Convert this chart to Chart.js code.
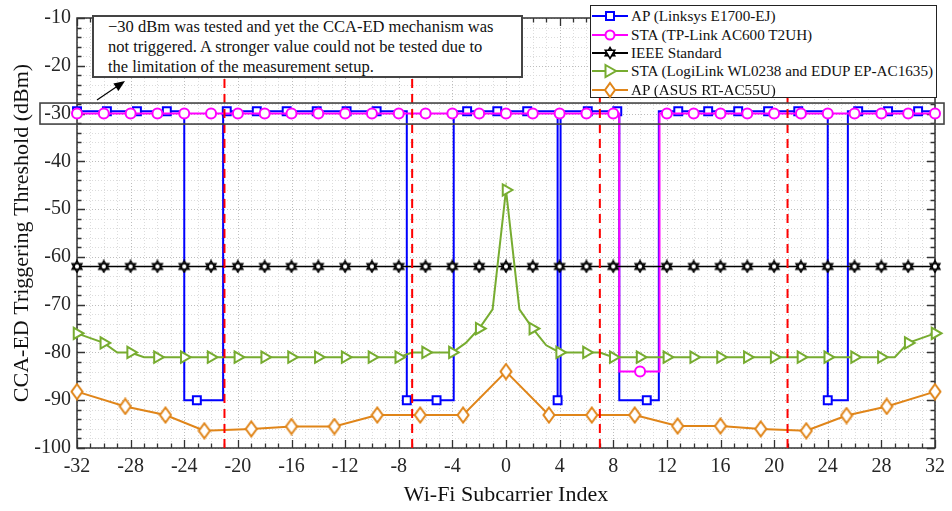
<!DOCTYPE html>
<html>
<head>
<meta charset="utf-8">
<script src="https://cdn.jsdelivr.net/npm/chart.js@4.4.1/dist/chart.umd.min.js"></script>
<style>
  body { margin: 0; background: #fff; }
  #wrap { position: relative; width: 952px; height: 511px; }
  #note {
    position: absolute; left: 92px; top: 15px; width: 431px; height: 63px;
    border: 2px solid #444; background: #fff;
    font-family: "Liberation Serif", serif; font-size: 16.5px; line-height: 20px;
    padding: 0 0 0 14px; box-sizing: border-box; color: #111;
  }
  #note div { white-space: nowrap; }
  #legend {
    position: absolute; left: 590px; top: 5px; width: 347px; height: 93px;
    border: 1px solid #222; background: #fff; box-sizing: border-box;
    font-family: "Liberation Serif", serif; font-size: 15.2px; color: #111;
    padding-top: 1px;
  }
  #legend .row { height: 18.4px; display: flex; align-items: center; white-space: nowrap; }
  #legend svg { margin-left: 1px; margin-right: 3px; flex: none; }
</style>
</head>
<body>
<div id="wrap">
  <canvas id="c" width="952" height="511"></canvas>
  <div id="note">
    <div>&minus;30 dBm was tested and yet the CCA-ED mechanism was</div>
    <div>not triggered. A stronger value could not be tested due to</div>
    <div>the limitation of the measurement setup.</div>
  </div>
  <div id="legend"></div>
</div>
<script>
// ---- data ----
const seriesNames = ['AP (Linksys E1700-EJ)', 'STA (TP-Link AC600 T2UH)', 'IEEE Standard',
  'STA (LogiLink WL0238 and EDUP EP-AC1635)', 'AP (ASUS RT-AC55U)'];

// AP Linksys: step shape, marker flag 1 = draw a square there
const blueX = [-32, -29.77, -27.53, -25.3, -24, -24, -23.06, -21.1, -21.1, -20.83, -18.59, -16.36, -14.12, -11.89, -9.65,
  -7.4, -7.4, -5.18, -3.9, -3.9, -2.9, -0.65, 1.58, 3.85, 3.85, 4.07, 4.07, 6.1, 8.3, 8.45, 8.45, 10.5, 11.4, 11.4,
  12.85, 15.08, 17.32, 19.55, 21.8, 24.0, 24.0, 25.5, 25.5, 26.27, 28.5, 30.74, 32];
const blueY = [-29.5, -29.5, -29.5, -29.5, -29.5, -90, -90, -90, -29.5, -29.5, -29.5, -29.5, -29.5, -29.5, -29.5,
  -29.5, -90, -90, -90, -29.5, -29.5, -29.5, -29.5, -29.5, -90, -90, -29.5, -29.5, -29.5, -29.5, -90, -90, -90, -29.5,
  -29.5, -29.5, -29.5, -29.5, -29.5, -29.5, -90, -90, -29.5, -29.5, -29.5, -29.5, -29.5];
const blueMark = [1, 1, 1, 1, 0, 0, 1, 0, 0, 1, 1, 1, 1, 1, 1,
  0, 1, 1, 0, 0, 1, 1, 1, 0, 1, 0, 0, 1, 1, 0, 0, 1, 0, 0,
  1, 1, 1, 1, 1, 0, 1, 0, 0, 1, 1, 1, 0];

// STA TP-Link
const pinkX = [-32, -30, -28, -26, -24, -22, -20, -18, -16, -14, -12, -10, -8, -6, -4, -2, 0, 2, 4, 6, 8,
  8.45, 8.45, 10, 11.45, 11.45, 12, 14, 16, 18, 20, 22, 24, 26, 28, 30, 32];
const pinkY = [-30, -30, -30, -30, -30, -30, -30, -30, -30, -30, -30, -30, -30, -30, -30, -30, -30, -30, -30, -30, -30,
  -30, -84, -84, -84, -30, -30, -30, -30, -30, -30, -30, -30, -30, -30, -30, -30];
const pinkMark = [1, 1, 1, 1, 1, 1, 1, 1, 1, 1, 1, 1, 1, 1, 1, 1, 1, 1, 1, 1, 1,
  0, 0, 1, 0, 0, 1, 1, 1, 1, 1, 1, 1, 1, 1, 1, 1];

// IEEE Standard
const ieeeX = [-32, -30, -28, -26, -24, -22, -20, -18, -16, -14, -12, -10, -8, -6, -4, -2, 0,
  2, 4, 6, 8, 10, 12, 14, 16, 18, 20, 22, 24, 26, 28, 30, 32];
const ieeeY = ieeeX.map(() => -62);

// STA LogiLink / EDUP, one value per subcarrier from -32 to 32
const greenX = [-32, -31, -30, -29, -28, -27, -26, -25, -24, -23, -22, -21, -20, -19, -18, -17, -16, -15, -14, -13,
  -12, -11, -10, -9, -8, -7, -6, -5, -4, -3, -2, -1, 0, 1, 2, 3, 4, 5, 6, 7, 8, 9, 10, 11, 12, 13, 14, 15, 16, 17,
  18, 19, 20, 21, 22, 23, 24, 25, 26, 27, 28, 29, 30, 31, 32];
const greenY = [-76, -77, -78, -80, -80, -81, -81, -81, -81, -81, -81, -81, -81, -81, -81, -81, -81, -81, -81, -81,
  -81, -81, -81, -81, -81, -80, -80, -80, -80, -78, -75, -71, -46, -71, -75, -78.5, -80, -80, -80, -80, -81, -81, -81, -81, -81, -81, -81, -81, -81, -81,
  -81, -81, -81, -81, -81, -81, -81, -81, -81, -81, -81, -81, -78, -77, -76];

// AP ASUS
const orangeX = [-32, -28.4, -25.4, -22.5, -19, -16, -12.8, -9.6, -6.4, -3.2, 0, 3.2, 6.4, 9.6, 12.8, 16, 19, 22.4, 25.4, 28.4, 32];
const orangeY = [-88.2, -91.3, -93.1, -96.4, -96, -95.5, -95.5, -93.1, -93.1, -93.1, -84, -93.1, -93.1, -93.1, -95.4, -95.4, -96, -96.4, -93.2, -91.3, -88.2];

// band edges (red dashed)
const edgeX = [-21, -7, 7, 21];

const xTicks = [-32, -28, -24, -20, -16, -12, -8, -4, 0, 4, 8, 12, 16, 20, 24, 28, 32];
const yTicks = [-100, -90, -80, -70, -60, -50, -40, -30, -20, -10];

const colors = ['#0000ff', '#ff00ff', '#000000', '#77ac30', '#e08519'];

// ---- marker images ----
function hexagram() {
  const c = document.createElement('canvas'); c.width = 14; c.height = 14;
  const g = c.getContext('2d');
  g.lineWidth = 1.6; g.strokeStyle = '#000'; g.fillStyle = '#fff';
  const cx = 7, cy = 7, r = 5.6;
  const tri = (a0) => {
    g.beginPath();
    for (let i = 0; i < 3; i++) {
      const a = a0 + i * 2 * Math.PI / 3;
      const px = cx + r * Math.cos(a), py = cy + r * Math.sin(a);
      i ? g.lineTo(px, py) : g.moveTo(px, py);
    }
    g.closePath();
  };
  tri(-Math.PI / 2); g.fill(); tri(Math.PI / 2); g.fill();
  tri(-Math.PI / 2); g.stroke(); tri(Math.PI / 2); g.stroke();
  return c;
}
function diamond() {
  const c = document.createElement('canvas'); c.width = 14; c.height = 18;
  const g = c.getContext('2d');
  g.lineWidth = 2; g.strokeStyle = colors[4]; g.fillStyle = '#fff';
  g.beginPath(); g.moveTo(7, 1.5); g.lineTo(12.5, 9); g.lineTo(7, 16.5); g.lineTo(1.5, 9); g.closePath();
  g.fill(); g.stroke();
  return c;
}

const pts = (xs, ys) => xs.map((x, i) => ({ x: x, y: ys[i] }));

const datasets = [
  {
    data: pts(blueX, blueY), borderColor: colors[0], borderWidth: 2, order: 5,
    pointStyle: 'rect', pointBackgroundColor: '#fff', pointBorderColor: colors[0], pointBorderWidth: 2,
    pointRadius: ctx => blueMark[ctx.dataIndex] ? 5.6 : 0
  },
  {
    data: pts(pinkX, pinkY), borderColor: colors[1], borderWidth: 2, order: 4,
    pointStyle: 'circle', pointBackgroundColor: '#fff', pointBorderColor: colors[1], pointBorderWidth: 2,
    pointRadius: ctx => pinkMark[ctx.dataIndex] ? 5 : 0
  },
  {
    data: pts(ieeeX, ieeeY), borderColor: colors[2], borderWidth: 1.5, order: 3,
    pointStyle: hexagram(), pointRadius: 6
  },
  {
    data: pts(greenX, greenY), borderColor: colors[3], borderWidth: 2, order: 2,
    pointStyle: 'triangle', pointRotation: 90, pointBackgroundColor: '#fff', pointBorderColor: colors[3], pointBorderWidth: 2,
    pointRadius: ctx => (greenX[ctx.dataIndex] % 2 === 0) ? 6.5 : 0
  },
  {
    data: pts(orangeX, orangeY), borderColor: colors[4], borderWidth: 2, order: 1,
    pointStyle: diamond(), pointRadius: 7
  }
];
edgeX.forEach(x => datasets.push({
  data: [{ x: x, y: -100 }, { x: x, y: -10 }], borderColor: '#ff0000', borderWidth: 2,
  borderDash: [9, 6], pointRadius: 0, order: 0
}));
datasets.forEach(d => { d.tension = 0; d.fill = false; d.clip = false; });

// ---- grid, inward ticks, box, highlight rectangle and arrow ----
const frame = {
  id: 'frame',
  beforeDatasetsDraw(chart) {
    const { ctx, chartArea: a, scales: { x, y } } = chart;
    ctx.save();
    ctx.lineWidth = 1;
    ctx.setLineDash([1, 2]);
    for (let v = -32; v <= 32; v++) {
      const px = Math.round(x.getPixelForValue(v)) + 0.5;
      ctx.strokeStyle = v % 4 === 0 ? '#bdbdbd' : '#dcdcdc';
      ctx.beginPath(); ctx.moveTo(px, a.top); ctx.lineTo(px, a.bottom); ctx.stroke();
    }
    for (let v = -100; v <= -10; v += 2) {
      const py = Math.round(y.getPixelForValue(v)) + 0.5;
      ctx.strokeStyle = v % 10 === 0 ? '#bdbdbd' : '#dcdcdc';
      ctx.beginPath(); ctx.moveTo(a.left, py); ctx.lineTo(a.right, py); ctx.stroke();
    }
    ctx.setLineDash([]);
    ctx.strokeStyle = '#333';
    ctx.lineWidth = 1.3;
    for (let v = -32; v <= 32; v++) {
      const px = Math.round(x.getPixelForValue(v)) + 0.5;
      const len = v % 4 === 0 ? 8 : 4.5;
      ctx.beginPath();
      ctx.moveTo(px, a.bottom); ctx.lineTo(px, a.bottom - len);
      ctx.moveTo(px, a.top); ctx.lineTo(px, a.top + len);
      ctx.stroke();
    }
    for (let v = -100; v <= -10; v += 2) {
      const py = Math.round(y.getPixelForValue(v)) + 0.5;
      const len = v % 10 === 0 ? 8 : 4.5;
      ctx.beginPath();
      ctx.moveTo(a.left, py); ctx.lineTo(a.left + len, py);
      ctx.moveTo(a.right, py); ctx.lineTo(a.right - len, py);
      ctx.stroke();
    }
    ctx.lineWidth = 1.5;
    ctx.strokeRect(a.left, a.top, a.right - a.left, a.bottom - a.top);
    ctx.restore();
  },
  afterDraw(chart) {
    const { ctx, scales: { y } } = chart;
    ctx.save();
    // box around the -30 dBm level
    const t = y.getPixelForValue(-27.8), b = y.getPixelForValue(-32.2);
    ctx.strokeStyle = '#444'; ctx.lineWidth = 1.6;
    ctx.strokeRect(40, t, 944 - 40, b - t);
    // arrow from the box towards the note
    ctx.strokeStyle = '#000'; ctx.fillStyle = '#000'; ctx.lineWidth = 1.2;
    const x0 = 97, y0 = 100, x1 = 125, y1 = 81;
    const ang = Math.atan2(y1 - y0, x1 - x0);
    ctx.beginPath(); ctx.moveTo(x0, y0); ctx.lineTo(x1 - 8 * Math.cos(ang), y1 - 8 * Math.sin(ang)); ctx.stroke();
    ctx.beginPath();
    ctx.moveTo(x1, y1);
    ctx.lineTo(x1 - 11 * Math.cos(ang) + 4.5 * Math.sin(ang), y1 - 11 * Math.sin(ang) - 4.5 * Math.cos(ang));
    ctx.lineTo(x1 - 11 * Math.cos(ang) - 4.5 * Math.sin(ang), y1 - 11 * Math.sin(ang) + 4.5 * Math.cos(ang));
    ctx.closePath(); ctx.fill();
    ctx.restore();
  }
};

const serif = 'Liberation Serif';
new Chart(document.getElementById('c'), {
  type: 'line',
  data: { datasets: datasets },
  options: {
    responsive: false,
    animation: false,
    devicePixelRatio: 1,
    layout: { padding: { top: 14, right: 16, left: 0, bottom: 0 } },
    plugins: { legend: { display: false }, tooltip: { enabled: false } },
    scales: {
      x: {
        type: 'linear', min: -32, max: 32,
        afterBuildTicks: s => { s.ticks = xTicks.map(v => ({ value: v })); },
        afterFit: s => { s.height = 63; },
        grid: { display: false, drawTicks: false },
        border: { display: false },
        ticks: { padding: 7, color: '#262626', font: { family: serif, size: 20 }, maxRotation: 0, autoSkip: false },
        title: { display: true, text: 'Wi-Fi Subcarrier Index', color: '#111', font: { family: serif, size: 22 }, padding: { top: 0, bottom: 3 } }
      },
      y: {
        type: 'linear', min: -100, max: -10,
        afterBuildTicks: s => { s.ticks = yTicks.map(v => ({ value: v })); },
        afterFit: s => { s.width = 77; },
        grid: { display: false, drawTicks: false },
        border: { display: false },
        ticks: { padding: 6, color: '#262626', font: { family: serif, size: 20 }, autoSkip: false },
        title: { display: true, text: 'CCA-ED Triggering Threshold (dBm)', color: '#111', font: { family: serif, size: 22 }, padding: { top: 9, bottom: 0 } }
      }
    }
  },
  plugins: [frame]
});

// ---- legend (html text, svg symbols) ----
const symbols = [
  '<rect x="14" y="5" width="8" height="8" fill="#fff" stroke="#0000ff" stroke-width="2"/>',
  '<circle cx="18" cy="9" r="4.5" fill="#fff" stroke="#ff00ff" stroke-width="2"/>',
  '<polygon points="18,3.5 22.8,11.8 13.2,11.8" fill="#fff" stroke="#000" stroke-width="1.5"/><polygon points="18,14.5 22.8,6.2 13.2,6.2" fill="#fff" stroke="#000" stroke-width="1.5"/>',
  '<polygon points="13.5,3 24,9 13.5,15" fill="#fff" stroke="#77ac30" stroke-width="2"/>',
  '<polygon points="18,2 23,9 18,16 13,9" fill="#fff" stroke="#e08519" stroke-width="2"/>'
];
const legend = document.getElementById('legend');
seriesNames.forEach((name, i) => {
  const row = document.createElement('div');
  row.className = 'row';
  row.innerHTML = '<svg width="36" height="18"><line x1="0" y1="9" x2="36" y2="9" stroke="' + colors[i] +
    '" stroke-width="2"/>' + symbols[i] + '</svg><span>' + name + '</span>';
  legend.appendChild(row);
});
</script>
</body>
</html>
